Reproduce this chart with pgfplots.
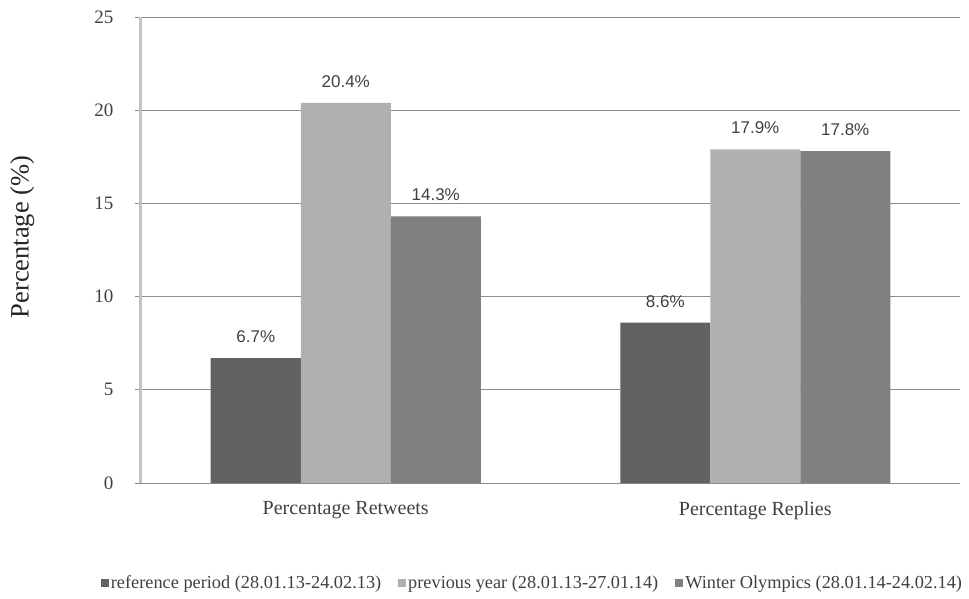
\documentclass[border=0pt]{standalone}
\usepackage{fontspec}
\setmainfont{Liberation Serif}
\newfontfamily\valuefont{Liberation Sans}
\usepackage{pgfplots}
\pgfplotsset{compat=1.18}

\definecolor{refdark}{HTML}{626262}
\definecolor{prevlight}{HTML}{B0B0B0}
\definecolor{olymmid}{HTML}{808080}
\definecolor{gridgray}{HTML}{8C8C8C}
\definecolor{yaxisgray}{HTML}{C4C4C4}
\definecolor{txtgray}{HTML}{404040}

\pgfplotsset{
  sq legend/.style={legend image code/.code={\fill[##1] (0pt,-3.5pt) rectangle (8pt,4.5pt);}},
}

\begin{document}
\begin{tikzpicture}[x=1pt,y=1pt]
\useasboundingbox (0,0) rectangle (969,-598);
\begin{axis}[
  at={(141pt,-483pt)}, anchor=south west,
  scale only axis, width=819pt, height=466pt,
  ybar=0pt, bar width=90pt,
  xmin=-0.5, xmax=1.5, enlarge x limits=false,
  ymin=0, ymax=25, ytick={0,5,...,25},
  xtick={0,1}, xticklabels={Percentage Retweets, Percentage Replies},
  axis x line*=bottom, axis y line*=left,
  x axis line style={draw=gridgray, line width=0.8pt, -},
  y axis line style={draw=yaxisgray, line width=3pt, -},
  ymajorgrids, grid style={draw=gridgray, line width=0.8pt},
  ytick pos=left, tick align=outside, major tick length=6pt,
  ytick style={draw=gridgray, line width=0.8pt},
  xtick style={draw=none},
  /pgf/number format/assume math mode=true,
  yticklabel style={font=\fontsize{19}{19}\selectfont, text=txtgray, anchor=east, xshift=-18pt},
  xticklabel style={font=\fontsize{20}{20}\selectfont, text=txtgray, yshift=-9pt},
  ylabel={Percentage (\%)},
  ylabel style={at={(axis description cs:-0.145,0.528)}, anchor=center, rotate=0,
    font=\fontsize{26.5}{26.5}\selectfont, text=black!85},
  nodes near coords={\pgfmathprintnumber[fixed,fixed zerofill,precision=1,assume math mode=true]{\pgfplotspointmeta}\%},
  nodes near coords style={font=\valuefont\fontsize{17}{17}\selectfont, text=txtgray, yshift=12pt},
  legend style={at={(0.478,-0.215)}, anchor=center, draw=none, fill=none,
    font=\fontsize{18.3}{18.3}\selectfont, text=txtgray,
    /tikz/every even column/.append style={column sep=15pt}},
  legend columns=3,
]
\addplot[fill=refdark, draw=none, sq legend] coordinates {(0,6.7) (1,8.6)};
\addplot[fill=prevlight, draw=none, sq legend] coordinates {(0,20.4) (1,17.9)};
\addplot[fill=olymmid, draw=none, sq legend] coordinates {(0,14.3) (1,17.8)};
\legend{reference period (28.01.13-24.02.13), previous year (28.01.13-27.01.14), Winter Olympics (28.01.14-24.02.14)}
\end{axis}
\end{tikzpicture}
\end{document}
